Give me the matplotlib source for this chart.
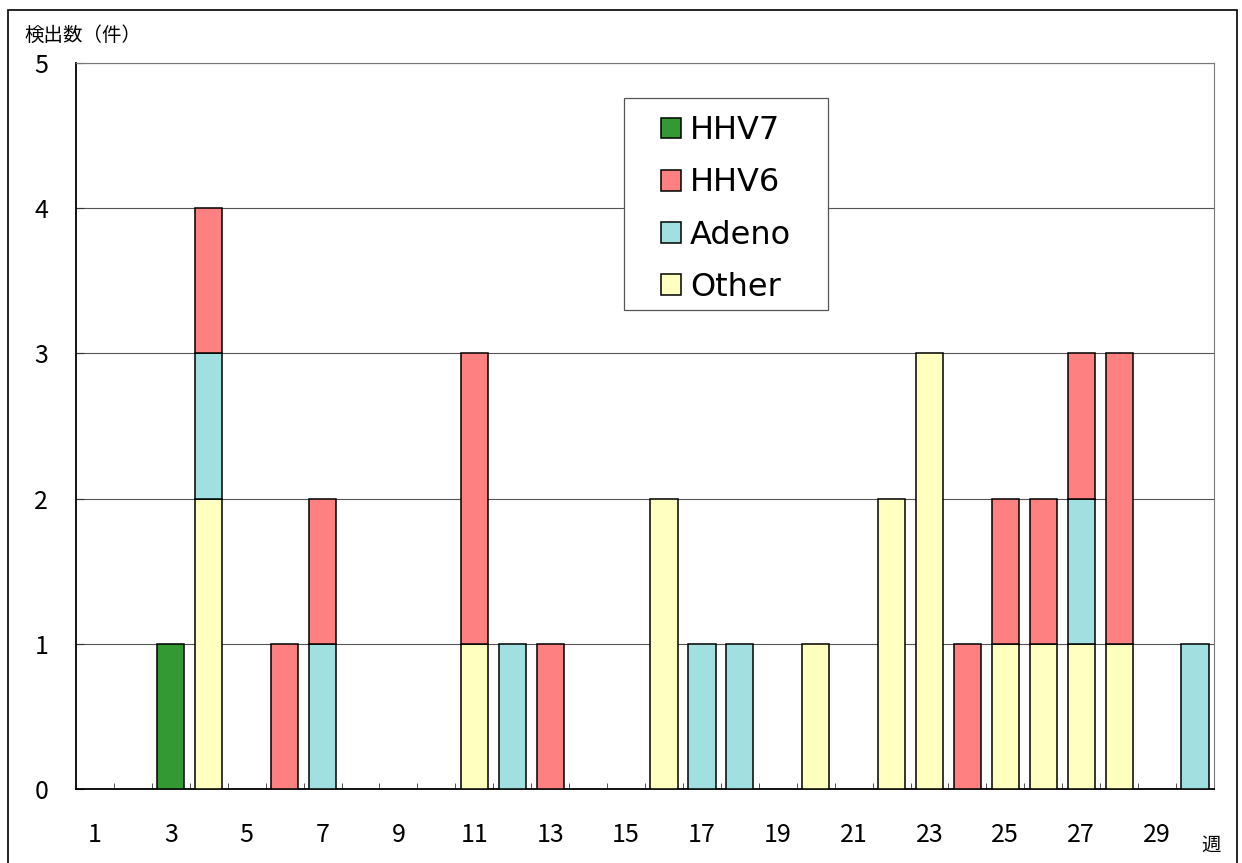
import matplotlib
matplotlib.use('Agg')
import matplotlib.pyplot as plt
import numpy as np
from matplotlib.patches import Rectangle

plt.rcParams['font.family'] = ['Noto Sans CJK JP', 'DejaVu Sans']

weeks = list(range(1, 31))
other = [0, 0, 0, 2, 0, 0, 0, 0, 0, 0, 1, 0, 0, 0, 0, 2, 0, 0, 0, 1,
         0, 2, 3, 0, 1, 1, 1, 1, 0, 0]
adeno = [0, 0, 0, 1, 0, 0, 1, 0, 0, 0, 0, 1, 0, 0, 0, 0, 1, 1, 0, 0,
         0, 0, 0, 0, 0, 0, 1, 0, 0, 1]
hhv6 = [0, 0, 0, 1, 0, 1, 1, 0, 0, 0, 2, 0, 1, 0, 0, 0, 0, 0, 0, 0,
        0, 0, 0, 1, 1, 1, 1, 2, 0, 0]
hhv7 = [0, 0, 1, 0, 0, 0, 0, 0, 0, 0, 0, 0, 0, 0, 0, 0, 0, 0, 0, 0,
        0, 0, 0, 0, 0, 0, 0, 0, 0, 0]

series = [('Other', other, '#FFFFC0'),
          ('Adeno', adeno, '#A0E0E0'),
          ('HHV6', hhv6, '#FF8080'),
          ('HHV7', hhv7, '#339933')]

W, H = 1242, 863
fig = plt.figure(figsize=(W / 100, H / 100), dpi=100)
ax = fig.add_axes([76 / W, 1 - 789 / H, (1214 - 76) / W, (789 - 63) / H])

x = np.array(weeks)
bottom = np.zeros(len(weeks))
handles = []
for name, vals, color in series:
    vals = np.array(vals)
    mask = vals > 0
    b = ax.bar(x[mask], vals[mask], bottom=bottom[mask], width=0.72, color=color,
               edgecolor='black', linewidth=1.1, label=name, zorder=3)
    handles.append(b)
    bottom += vals

ax.set_xlim(0.5, 30.5)
ax.set_ylim(0, 5)
ax.set_yticks(range(0, 6))
ax.yaxis.grid(True, color='#555555', linewidth=0.8, zorder=0)
ax.tick_params(axis='y', direction='in', length=6, labelsize=18, pad=20, color='#333333')

ax.set_xticks(weeks[::2])
ax.set_xticklabels([str(w) for w in weeks[::2]])
ax.set_xticks(np.arange(1.5, 30.5, 1), minor=True)
ax.tick_params(axis='x', which='major', length=0, labelsize=18, pad=24)
ax.tick_params(axis='x', which='minor', direction='in', length=4, color='#333333')

for s in ['top', 'right']:
    ax.spines[s].set_color('#777777')
    ax.spines[s].set_linewidth(0.8)
for s in ['left', 'bottom']:
    ax.spines[s].set_color('black')
    ax.spines[s].set_linewidth(1.3)

# legend box drawn by hand, legend entries centred inside it
box = Rectangle((624 / W, 1 - 310 / H), (828 - 624) / W, (310 - 98) / H,
                transform=fig.transFigure, facecolor='white', edgecolor='#555555',
                linewidth=0.9, zorder=4, clip_on=False)
ax.add_patch(box)
leg = ax.legend(handles[::-1], [h.get_label() for h in handles[::-1]],
                loc='center', bbox_to_anchor=(726 / W, 1 - 209 / H),
                bbox_transform=fig.transFigure, borderaxespad=0, borderpad=0,
                prop={'family': 'DejaVu Sans', 'size': 23}, frameon=False,
                handlelength=0.62, handleheight=0.62, handletextpad=0.3,
                labelspacing=0.66)
leg.set_zorder(5)

fig.text(24 / W, 1 - 35 / H, '検出数（件）', fontsize=14, va='center', ha='left')
fig.text(1211 / W, 1 - 845 / H, '週', fontsize=14, va='center', ha='center')

fig.patches.append(Rectangle((8 / W, -0.05), (1237 - 8) / W, 1.05 - 10 / H,
                             transform=fig.transFigure, fill=False,
                             edgecolor='black', linewidth=1.2))

fig.savefig('out.png', dpi=100)
plt.close()
